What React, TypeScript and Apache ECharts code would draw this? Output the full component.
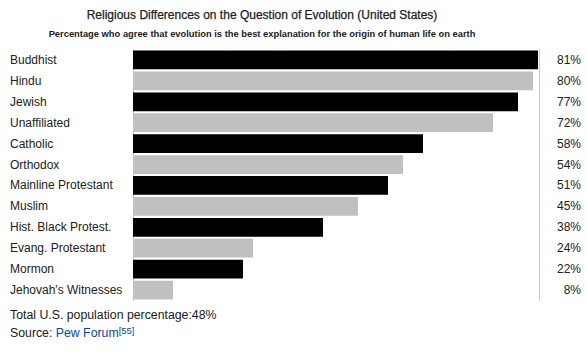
import React, { useEffect, useRef } from "react";
import * as echarts from "echarts";

const categories = [
  "Buddhist",
  "Hindu",
  "Jewish",
  "Unaffiliated",
  "Catholic",
  "Orthodox",
  "Mainline Protestant",
  "Muslim",
  "Hist. Black Protest.",
  "Evang. Protestant",
  "Mormon",
  "Jehovah's Witnesses",
];
const values = [81, 80, 77, 72, 58, 54, 51, 45, 38, 24, 22, 8];
const barColors = ["#000000", "#c0c0c0"];
const totalUS = 48;

const FONT = "'Liberation Sans', Arial, sans-serif";
const TXT = "#202122";

export default function App() {
  const ref = useRef<HTMLDivElement>(null);
  useEffect(() => {
    if (!ref.current) return;
    const chart = echarts.init(ref.current, undefined, { renderer: "svg" });
    chart.setOption({
      animation: false,
      textStyle: { fontFamily: FONT },
      grid: { left: 133, right: 49, top: 49.5, height: 251, containLabel: false },
      xAxis: { type: "value", min: 0, max: 81, show: false },
      yAxis: [
        {
          type: "category",
          data: categories,
          inverse: true,
          position: "left",
          offset: 1,
          axisLine: { show: true, lineStyle: { color: "#c8c8c8", width: 1 } },
          axisTick: { show: false },
          axisLabel: { align: "left", margin: 122, color: TXT, fontSize: 12, fontFamily: FONT },
        },
        {
          type: "category",
          data: values.map((v) => v + "%"),
          inverse: true,
          position: "right",
          offset: 1,
          axisLine: { show: true, lineStyle: { color: "#c8c8c8", width: 1 } },
          axisTick: { show: false },
          axisLabel: { align: "right", margin: 42, color: TXT, fontSize: 12, fontFamily: FONT },
        },
      ],
      series: [
        {
          type: "bar",
          data: values.map((v, i) => ({ value: v, itemStyle: { color: barColors[i % 2] } })),
          barCategoryGap: "10%",
          yAxisIndex: 0,
        },
      ],
      graphic: [
        {
          type: "text",
          x: 262,
          y: 15,
          style: {
            text: "Religious Differences on the Question of Evolution (United States)",
            font: "12px " + FONT,
            fill: TXT,
            stroke: TXT,
            lineWidth: 0.25,
            align: "center",
            verticalAlign: "middle",
          },
        },
        {
          type: "text",
          x: 262,
          y: 34,
          style: {
            text: "Percentage who agree that evolution is the best explanation for the origin of human life on earth",
            font: "bold 9.35px " + FONT,
            fill: TXT,
            align: "center",
            verticalAlign: "middle",
          },
        },
        {
          type: "text",
          x: 10,
          y: 315,
          style: {
            text: "Total U.S. population percentage:" + totalUS + "%",
            font: "12.3px " + FONT,
            fill: TXT,
            verticalAlign: "middle",
          },
        },
        {
          type: "text",
          x: 10,
          y: 333,
          style: {
            text: "Source: {a|Pew Forum}{s|[55]}",
            font: "12.3px " + FONT,
            fill: TXT,
            verticalAlign: "middle",
            rich: {
              a: { fill: "#0645ad", font: "12.3px " + FONT } as any,
              s: { fill: "#0645ad", font: "9.5px " + FONT, verticalAlign: "top", padding: [0, 0, 6, 0] } as any,
            },
          },
        },
      ],
    });
    return () => chart.dispose();
  }, []);
  return <div ref={ref} style={{ width: 587, height: 353, position: "absolute", left: 0, top: 0 }} />;
}
